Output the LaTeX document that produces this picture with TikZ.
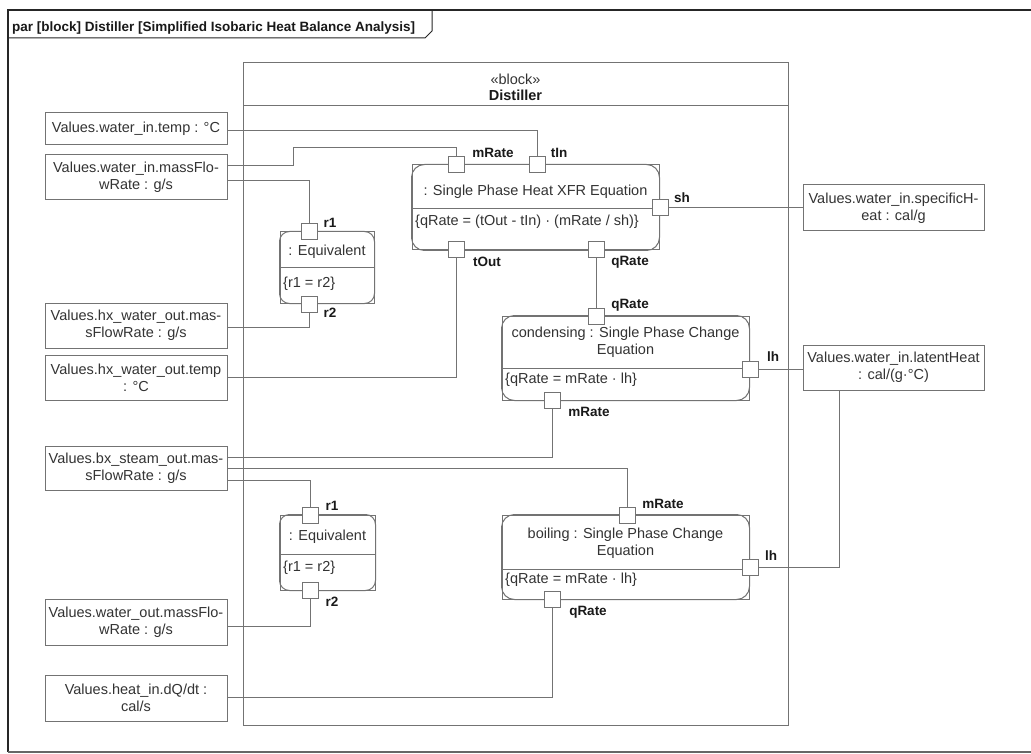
\documentclass[tikz,border=0pt]{standalone}
\usepackage{fontspec}
\setmainfont{Liberation Sans}
\pgfdeclarelayer{bg}
\pgfsetlayers{bg,main}
\begin{document}
\begin{tikzpicture}[x=1pt,y=-1pt,
  wire/.style={draw=black!55, line width=1pt},
  valbox/.style={draw=black!55, line width=1pt, minimum width=182pt, align=center,
    inner sep=2pt, font=\fontsize{14.5}{17}\selectfont, text=black!80},
  cblock/.style={draw=black!55, line width=1pt, minimum width=247pt, inner sep=0pt},
  port/.style={draw=black!55, fill=white, line width=1pt, minimum size=16pt, inner sep=0pt},
  plabel/.style={font=\bfseries\fontsize{13.5}{15}\selectfont, text=black!90, inner sep=0pt},
  btext/.style={font=\fontsize{14.5}{17}\selectfont, text=black!80, inner sep=0pt, align=center},
]
\useasboundingbox (0,0) rectangle (1031,754);
\begin{pgfonlayer}{bg}
\fill[white] (0,0) rectangle (1031,754);
\end{pgfonlayer}

% diagram frame and its name tab
\draw[black!85, line width=2.5pt] (1031,10) -- (8,10) -- (8,752);
\draw[black!60, line width=1.5pt] (8,752) -- (1031,752);
\draw[black!85, line width=1pt] (8,38) -- (425,38) -- (432,31) -- (432,10);
\node[font=\bfseries\fontsize{13.5}{15}\selectfont, anchor=west, inner sep=0pt, text=black!90] (title) at (12,28)
  {par [block] Distiller [Simplified Isobaric Heat Balance Analysis]};

% the Distiller block
\node[draw=black!55, line width=1pt, minimum width=545pt, minimum height=662pt, inner sep=0pt] (dist) at (515.5,394) {};
\draw[wire] (243,106) -- (788,106);
\node[btext] (stereo) at (515.5,79) {«block»};
\node[btext, font=\bfseries\fontsize{14.5}{17}\selectfont, text=black!90] (dname) at (515.5,95) {Distiller};

% value properties, left column
\node[valbox, minimum height=32pt] (vInTemp) at (136,129) {Values.water\_in.temp : °C};
\node[valbox, minimum height=45pt] (vInMass) at (136,177.5) {Values.water\_in.massFlo-\\wRate : g/s};
\node[valbox, minimum height=45pt] (vHxMass) at (136,325.5) {Values.hx\_water\_out.mas-\\sFlowRate : g/s};
\node[valbox, minimum height=45pt] (vHxTemp) at (136,377.5) {Values.hx\_water\_out.temp\\: °C};
\node[valbox, minimum height=44pt] (vSteam) at (136,468) {Values.bx\_steam\_out.mas-\\sFlowRate : g/s};
\node[valbox, minimum height=46pt] (vOutMass) at (136,622) {Values.water\_out.massFlo-\\wRate : g/s};
\node[valbox, minimum height=46pt] (vHeat) at (136,698) {Values.heat\_in.dQ/dt :\\cal/s};

% value properties, right column
\node[valbox, minimum width=181pt, minimum height=46pt] (vSh) at (893.5,208) {Values.water\_in.specificH-\\eat : cal/g};
\node[valbox, minimum width=181pt, minimum height=45pt] (vLh) at (893.5,367.5) {Values.water\_in.latentHeat\\: cal/(g·°C)};

% heat transfer constraint
\node[cblock, minimum height=85pt] (xfr) at (535.5,207.5) {};
\draw[wire, rounded corners=13pt] (xfr.north west) rectangle (xfr.south east);
\draw[wire] (xfr.west |- 0,209) -- (xfr.east |- 0,209);
\node[btext] (xfrT) at (535.5,192) {: Single Phase Heat XFR Equation};
\node[btext, anchor=west] (xfrC) at (415,222) {\{qRate = (tOut - tIn) · (mRate / sh)\}};

% condensing constraint
\node[cblock, minimum height=84pt] (cond) at (625.5,358) {};
\draw[wire, rounded corners=13pt] (cond.north west) rectangle (cond.south east);
\draw[wire] (cond.west |- 0,368) -- (cond.east |- 0,368);
\node[btext] (condT) at (625.5,342.5) {condensing : Single Phase Change\\Equation};
\node[btext, anchor=west] (condC) at (505,380) {\{qRate = mRate · lh\}};

% boiling constraint
\node[cblock, minimum height=84pt] (boil) at (625.5,557) {};
\draw[wire, rounded corners=13pt] (boil.north west) rectangle (boil.south east);
\draw[wire] (boil.west |- 0,569) -- (boil.east |- 0,569);
\node[btext] (boilT) at (625.5,543) {boiling : Single Phase Change\\Equation};
\node[btext, anchor=west] (boilC) at (505,580) {\{qRate = mRate · lh\}};

% equivalence constraints
\node[cblock, minimum width=94pt, minimum height=71pt] (eqA) at (327,267.5) {};
\draw[wire, rounded corners=10pt] (eqA.north west) rectangle (eqA.south east);
\draw[wire] (eqA.west |- 0,268) -- (eqA.east |- 0,268);
\node[btext] (eqAT) at (327,252) {: Equivalent};
\node[btext, anchor=west] (eqAC) at (283,284) {\{r1 = r2\}};

\node[cblock, minimum width=95pt, minimum height=75pt] (eqB) at (327.5,552.5) {};
\draw[wire, rounded corners=10pt] (eqB.north west) rectangle (eqB.south east);
\draw[wire] (eqB.west |- 0,554) -- (eqB.east |- 0,554);
\node[btext] (eqBT) at (327.5,537) {: Equivalent};
\node[btext, anchor=west] (eqBC) at (283,568) {\{r1 = r2\}};

% ports
\node[port] (xMRate) at (456,165) {};
\node[port] (xTIn) at (537,165) {};
\node[port] (xSh) at (660,208) {};
\node[port] (xTOut) at (456,250) {};
\node[port] (xQRate) at (596,250) {};
\node[port] (cQRate) at (596,316) {};
\node[port] (cLh) at (750,369) {};
\node[port] (cMRate) at (552,400) {};
\node[port] (bMRate) at (627,515) {};
\node[port] (bLh) at (750,567) {};
\node[port] (bQRate) at (552,599) {};
\node[port] (aR1) at (309,232) {};
\node[port] (aR2) at (309,304) {};
\node[port] (bR1) at (310,515) {};
\node[port] (bR2) at (310,590) {};

% port names
\node[plabel] (lxMRate) at (493,153) {mRate};
\node[plabel] (lxTIn) at (559,153) {tIn};
\node[plabel] (lxSh) at (682,198) {sh};
\node[plabel] (lxTOut) at (487,262) {tOut};
\node[plabel] (lxQRate) at (630,262) {qRate};
\node[plabel] (lcQRate) at (630,305) {qRate};
\node[plabel] (lcLh) at (773,357) {lh};
\node[plabel] (lcMRate) at (589,412) {mRate};
\node[plabel] (lbMRate) at (663,504) {mRate};
\node[plabel] (lbLh) at (771,556) {lh};
\node[plabel] (lbQRate) at (588,612) {qRate};
\node[plabel] (laR1) at (330,223) {r1};
\node[plabel] (laR2) at (330,313) {r2};
\node[plabel] (lbR1) at (332,506) {r1};
\node[plabel] (lbR2) at (332,602) {r2};

% binding connectors
\begin{pgfonlayer}{bg}
\draw[wire] ([yshift=-2pt]vInTemp.east) -| (xTIn.north);
\draw[wire] ([yshift=11.5pt]vInMass.east) -- ++(66,0) -- ++(0,-18) -| (xMRate.north);
\draw[wire] ([yshift=-3.5pt]vInMass.east) -| (aR1.north);
\draw[wire] (aR2.south) |- ([yshift=-1.5pt]vHxMass.east);
\draw[wire] (xTOut.south) |- (vHxTemp.east);
\draw[wire] (xSh.east) -- (vSh.west);
\draw[wire] (xQRate.south) -- (cQRate.north);
\draw[wire] (cLh.east) -- (cLh.east -| vLh.west);
\draw[wire] (cMRate.south) |- ([yshift=11pt]vSteam.east);
\draw[wire] (vSteam.east) -| (bMRate.north);
\draw[wire] ([yshift=-12pt]vSteam.east) -| (bR1.north);
\draw[wire] (bR2.south) |- ([yshift=-4pt]vOutMass.east);
\draw[wire] (bQRate.south) |- ([yshift=1pt]vHeat.east);
\draw[wire] ([xshift=-54.5pt]vLh.south) |- (bLh.east);
\end{pgfonlayer}
\end{tikzpicture}
\end{document}
